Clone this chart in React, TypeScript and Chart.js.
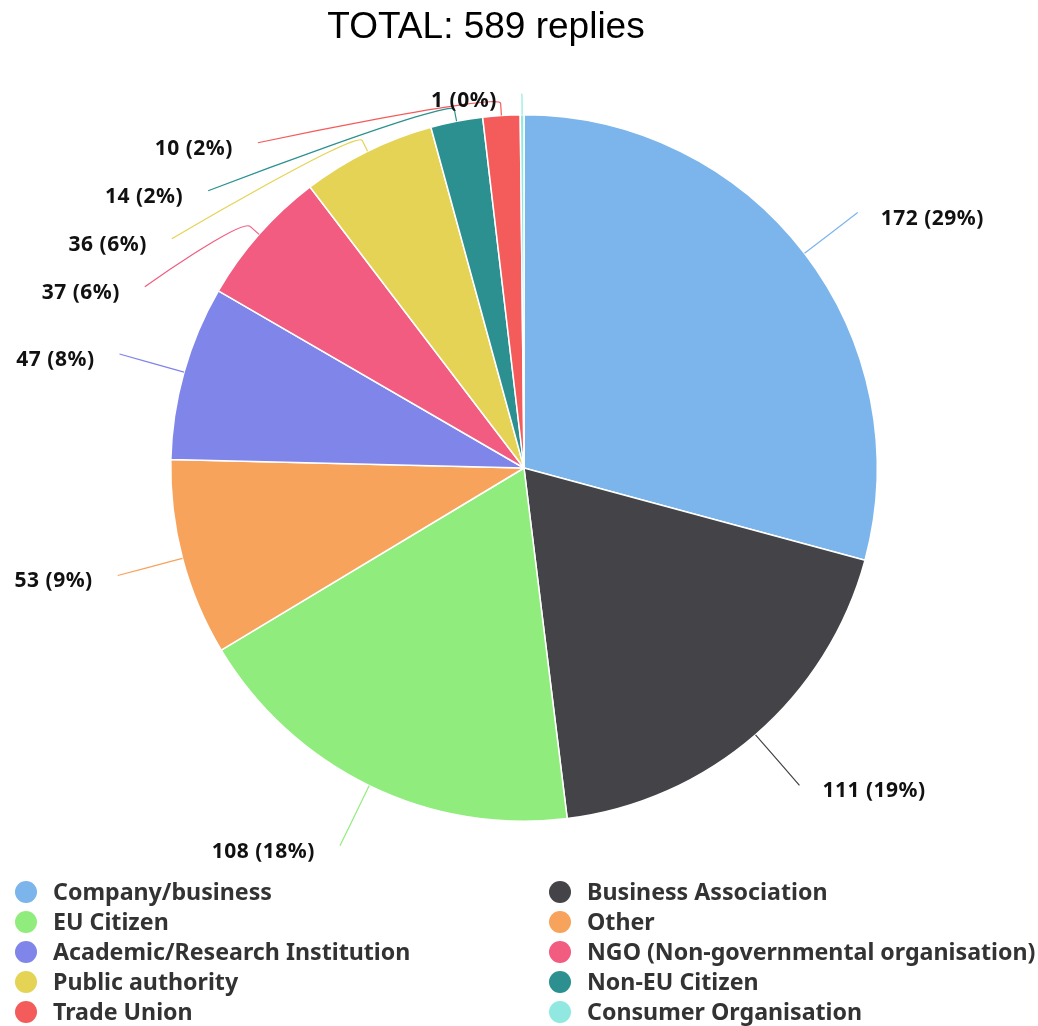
import React, { useEffect, useRef } from 'react';
import { Chart, registerables } from 'chart.js';

Chart.register(...registerables);

const titleText = 'TOTAL: 589 replies';
const categories = [
  'Company/business',
  'Business Association',
  'EU Citizen',
  'Other',
  'Academic/Research Institution',
  'NGO (Non-governmental organisation)',
  'Public authority',
  'Non-EU Citizen',
  'Trade Union',
  'Consumer Organisation',
];
const replies = [172, 111, 108, 53, 47, 37, 36, 14, 10, 1];
const colors = [
  '#7cb5ec', '#434348', '#90ed7d', '#f7a35c', '#8085e9',
  '#f15c80', '#e4d354', '#2b908f', '#f45b5b', '#91e8e1',
];

const LABEL_FONT = 'bold 21px "Noto Sans", "DejaVu Sans", sans-serif';
const LEGEND_FONT = 'bold 23.2px "Noto Sans", "DejaVu Sans", sans-serif';

const titlePlugin = {
  id: 'customTitle',
  afterDraw(chart: any) {
    const ctx = chart.ctx;
    ctx.save();
    ctx.font = '37px "Liberation Sans", Arial, sans-serif';
    ctx.fillStyle = '#000000';
    ctx.textAlign = 'center';
    ctx.textBaseline = 'alphabetic';
    ctx.fillText(titleText, 486, 38);
    ctx.restore();
  },
};

const legendPlugin = {
  id: 'customLegend',
  afterDraw(chart: any) {
    const ctx = chart.ctx;
    const labels: string[] = chart.data.labels;
    const bg: string[] = chart.data.datasets[0].backgroundColor;
    const colX = [26, 560];
    const top = 892;
    const rowH = 30;
    ctx.save();
    ctx.font = LEGEND_FONT;
    ctx.textBaseline = 'middle';
    ctx.textAlign = 'left';
    labels.forEach((lab, i) => {
      const col = i % 2;
      const row = Math.floor(i / 2);
      const x = colX[col];
      const y = top + row * rowH;
      ctx.fillStyle = bg[i];
      ctx.beginPath();
      ctx.arc(x, y, 11, 0, Math.PI * 2);
      ctx.fill();
      ctx.fillStyle = '#333333';
      ctx.fillText(lab, x + 27, y + 1);
    });
    ctx.restore();
  },
};

const pieLabelPlugin = {
  id: 'pieLabels',
  afterDatasetsDraw(chart: any) {
    const meta = chart.getDatasetMeta(0);
    const ds = chart.data.datasets[0];
    const values: number[] = ds.data;
    const total = values.reduce((a, b) => a + b, 0);
    const arcs = meta.data;
    if (!arcs.length) return;
    const cx = arcs[0].x;
    const cy = arcs[0].y;
    const r = arcs[0].outerRadius;
    const R = r + 67;
    const spacing = 48;
    const topLim = cy - r - 20;
    const botLim = cy + r + 40;
    const items = arcs.map((arc: any, i: number) => {
      const a = (arc.startAngle + arc.endAngle) / 2;
      return {
        i,
        a,
        left: Math.cos(a) < 0,
        natY: cy + R * Math.sin(a),
        y: 0,
        clamped: false,
      };
    });
    [true, false].forEach((side) => {
      const list = items.filter((it: any) => it.left === side).sort((p: any, q: any) => p.natY - q.natY);
      let prev = -Infinity;
      list.forEach((it: any) => {
        it.y = Math.max(it.natY, topLim, prev + spacing);
        prev = it.y;
      });
      let next = Infinity;
      for (let k = list.length - 1; k >= 0; k--) {
        const it = list[k];
        it.y = Math.min(it.y, botLim, next - spacing);
        next = it.y;
      }
      list.forEach((it: any) => {
        it.clamped = Math.abs(it.y - topLim) < 0.5 || Math.abs(it.y - botLim) < 0.5;
      });
    });
    const ctx = chart.ctx;
    ctx.save();
    items.forEach((it: any) => {
      const color = ds.backgroundColor[it.i];
      const sign = it.left ? -1 : 1;
      let dx: number;
      if (it.clamped) {
        dx = Math.abs(R * Math.cos(it.a));
      } else {
        const dy = Math.max(-R, Math.min(R, it.y - cy));
        dx = Math.sqrt(R * R - dy * dy);
      }
      const ex = cx + sign * dx;
      const ey = it.y;
      const p0x = cx + r * Math.cos(it.a);
      const p0y = cy + r * Math.sin(it.a);
      const p1x = cx + (r + 12) * Math.cos(it.a);
      const p1y = cy + (r + 12) * Math.sin(it.a);
      ctx.strokeStyle = color;
      ctx.lineWidth = 1.2;
      ctx.beginPath();
      ctx.moveTo(ex, ey);
      ctx.bezierCurveTo(ex, ey, 2 * p1x - p0x, 2 * p1y - p0y, p1x, p1y);
      ctx.lineTo(p0x, p0y);
      ctx.stroke();
      const v = values[it.i];
      const pct = Math.round((v / total) * 100);
      const text = `${v} (${pct}%)`;
      ctx.font = LABEL_FONT;
      (ctx as any).letterSpacing = '0.5px';
      ctx.fillStyle = '#111111';
      ctx.textBaseline = 'middle';
      ctx.textAlign = it.left ? 'right' : 'left';
      ctx.fillText(text, ex + sign * (it.left ? 25 : 23), ey + 6);
      (ctx as any).letterSpacing = '0px';
    });
    ctx.restore();
  },
};

export default function App() {
  const canvasRef = useRef<HTMLCanvasElement | null>(null);

  useEffect(() => {
    const canvas = canvasRef.current;
    if (!canvas) return;
    const chart = new Chart(canvas, {
      type: 'pie',
      data: {
        labels: categories,
        datasets: [
          {
            data: replies,
            backgroundColor: colors,
            borderColor: '#ffffff',
            borderWidth: 1.5,
          },
        ],
      },
      options: {
        responsive: false,
        animation: false,
        devicePixelRatio: 1,
        events: [],
        layout: { padding: { left: 170, right: 160, top: 114, bottom: 204 } },
        plugins: {
          legend: { display: false },
          title: { display: false },
          tooltip: { enabled: false },
        },
      },
      plugins: [pieLabelPlugin, legendPlugin, titlePlugin],
    });
    return () => chart.destroy();
  }, []);

  return (
    <div style={{ position: 'absolute', left: 0, top: 0, width: 1038, height: 1026, background: '#ffffff' }}>
      <canvas ref={canvasRef} width={1038} height={1026} style={{ display: 'block', width: 1038, height: 1026 }} />
    </div>
  );
}
